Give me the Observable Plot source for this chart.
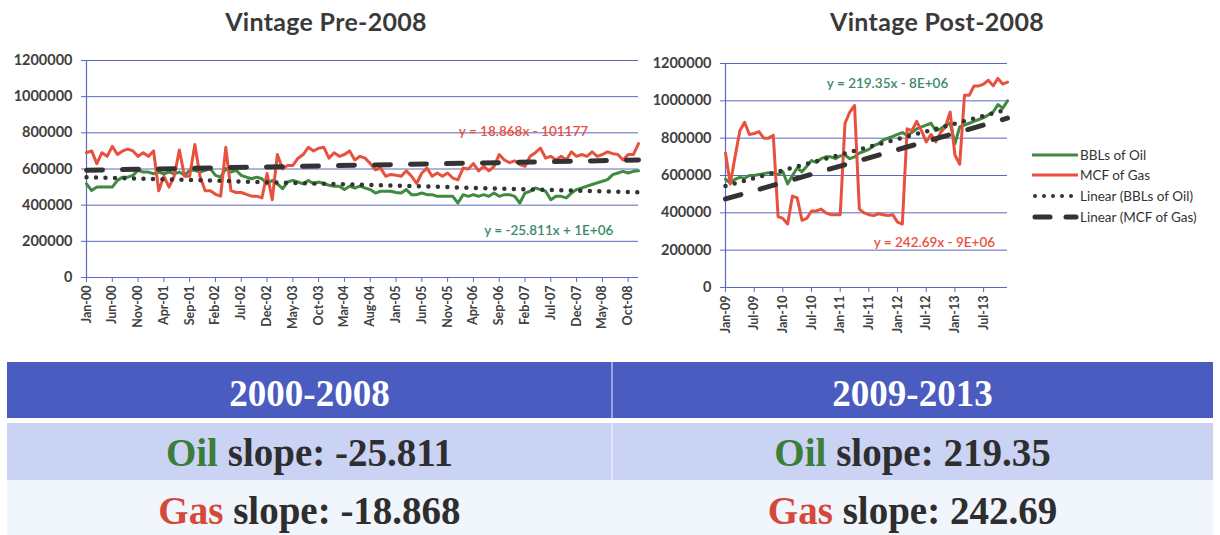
<!DOCTYPE html>
<html>
<head>
<meta charset="utf-8">
<script src="https://cdn.jsdelivr.net/npm/d3@7"></script>
<script src="https://cdn.jsdelivr.net/npm/@observablehq/plot@0.6"></script>
<style>
  body { margin: 0; background: #ffffff; }
  #root { position: relative; width: 1220px; height: 535px; overflow: hidden; background: #ffffff; }
  .chart { position: absolute; top: 0; }
  .chart svg { background: transparent !important; max-width: none !important; }
  #overlay { position: absolute; left: 0; top: 0; pointer-events: none; }
</style>
</head>
<body>
<div id="root">
  <div id="left" class="chart" style="left:0px"></div>
  <div id="right" class="chart" style="left:640px"></div>
</div>
<script>
// ---------------- DATA ----------------
const leftTitle = "Vintage Pre-2008";
const rightTitle = "Vintage Post-2008";

const leftMonthLabels = ["Jan-00","Jun-00","Nov-00","Apr-01","Sep-01","Feb-02","Jul-02","Dec-02","May-03","Oct-03","Mar-04","Aug-04","Jan-05","Jun-05","Nov-05","Apr-06","Sep-06","Feb-07","Jul-07","Dec-07","May-08","Oct-08"];
const leftLabelStep = 5; // one label every 5 months
const rightMonthLabels = ["Jan-09","Jul-09","Jan-10","Jul-10","Jan-11","Jul-11","Jan-12","Jul-12","Jan-13","Jul-13"];
const rightLabelStep = 6; // one label every 6 months

const yTickValues = [0, 200000, 400000, 600000, 800000, 1000000, 1200000];

// Jan-2000 .. Dec-2008 (108 months)
const leftOil = [
  518000,481000,500000,500000,500000,500000,537000,555000,555000,565000,593000,583000,
  583000,574000,583000,574000,583000,574000,583000,565000,593000,593000,583000,593000,
  602000,565000,555000,602000,583000,593000,565000,555000,546000,555000,546000,518000,
  537000,518000,491000,528000,537000,528000,518000,537000,518000,528000,520000,510000,
  505000,505000,486000,505000,495000,505000,495000,486000,467000,477000,477000,477000,
  470000,467000,486000,458000,458000,467000,458000,458000,449000,449000,449000,449000,
  412000,458000,449000,458000,449000,458000,449000,467000,449000,458000,458000,449000,
  412000,467000,477000,495000,486000,477000,430000,449000,449000,440000,467000,486000,
  495000,505000,514000,523000,532000,541000,569000,578000,587000,578000,587000,590000
];
const leftGas = [
  690000,700000,630000,690000,670000,725000,680000,700000,710000,700000,670000,690000,
  670000,700000,480000,560000,500000,560000,705000,560000,560000,735000,560000,480000,
  480000,460000,450000,720000,480000,470000,470000,460000,450000,450000,440000,575000,
  430000,680000,600000,620000,620000,660000,680000,720000,700000,715000,720000,660000,
  690000,670000,680000,700000,650000,670000,660000,630000,595000,605000,560000,570000,
  565000,560000,590000,560000,520000,578000,605000,560000,578000,560000,578000,550000,
  540000,605000,600000,630000,590000,615000,590000,615000,680000,650000,635000,645000,
  625000,615000,670000,690000,715000,660000,670000,650000,670000,650000,695000,670000,
  680000,670000,695000,670000,680000,695000,685000,680000,650000,680000,680000,740000
];

// Jan-2009 .. Dec-2013 (60 months)
const rightOil = [
  580000,560000,580000,590000,585000,600000,600000,605000,610000,615000,615000,605000,
  620000,555000,600000,640000,620000,650000,680000,670000,690000,700000,700000,690000,
  705000,710000,690000,700000,720000,730000,740000,760000,770000,790000,800000,810000,
  820000,830000,815000,830000,850000,860000,870000,880000,840000,850000,870000,880000,
  770000,860000,870000,880000,890000,900000,910000,925000,940000,980000,960000,1000000
];
const rightGas = [
  720000,555000,700000,840000,885000,820000,825000,835000,800000,800000,815000,380000,
  370000,340000,490000,480000,360000,370000,410000,410000,420000,400000,390000,390000,
  390000,880000,940000,975000,420000,400000,390000,385000,395000,390000,385000,390000,
  350000,340000,850000,840000,890000,840000,780000,820000,780000,830000,860000,940000,
  710000,660000,1030000,1030000,1080000,1080000,1090000,1110000,1080000,1120000,1090000,1100000
];

const leftOilEq = "y = -25.811x + 1E+06";
const leftGasEq = "y = 18.868x - 101177";
const rightOilEq = "y = 219.35x - 8E+06";
const rightGasEq = "y = 242.69x - 9E+06";

const legendLabels = ["BBLs of Oil", "MCF of Gas", "Linear (BBLs of Oil)", "Linear (MCF of Gas)"];

const tablePeriods = ["2000-2008", "2009-2013"];
const oilSlopes = ["-25.811", "219.35"];
const gasSlopes = ["-18.868", "242.69"];

// ---------------- STYLE ----------------
const oilColor = "#3f8a3f";
const gasColor = "#e8513d";
const oilEqColor = "#3a8a68";
const gasEqColor = "#e8513d";
const trendColor = "#333333";
const gridColor = "#5a69bd";
const labelColor = "#404040";

function makeChart(cfg) {
  const oilData = cfg.oil.map((v, i) => ({i, v}));
  const gasData = cfg.gas.map((v, i) => ({i, v}));
  const n = cfg.oil.length;
  const ticks = cfg.labels.map((_, k) => k * cfg.step);
  return Plot.plot({
    width: cfg.width, height: cfg.height,
    marginLeft: cfg.ml, marginRight: cfg.mr, marginTop: cfg.mt, marginBottom: cfg.mb,
    style: {fontFamily: "Lato, sans-serif", fontWeight: "bold", fontSize: "12.5px", color: labelColor, background: "transparent", overflow: "visible"},
    x: {type: "linear", domain: [0, n - 1]},
    y: {domain: [0, 1200000]},
    marks: [
      Plot.gridY(yTickValues, {stroke: gridColor, strokeOpacity: 1, strokeWidth: 1}),
      Plot.axisY(yTickValues, {tickSize: 5, tickPadding: 9, stroke: gridColor, fill: labelColor, fontSize: 14.5, tickFormat: d3.format("d"), label: null}),
      Plot.ruleX([0], {stroke: gridColor, strokeWidth: 1.2}),
      Plot.axisX(ticks, {tickRotate: -90, tickSize: 5, tickPadding: 3, stroke: gridColor, fill: labelColor, fontSize: 12.5, tickFormat: d => cfg.labels[Math.round(d / cfg.step)], label: null}),
      Plot.ruleY([0], {stroke: gridColor, strokeWidth: 1.2}),
      Plot.line(oilData, {x: "i", y: "v", stroke: oilColor, strokeWidth: 3, strokeLinejoin: "round"}),
      Plot.line(gasData, {x: "i", y: "v", stroke: gasColor, strokeWidth: 3, strokeLinejoin: "round"}),
      Plot.linearRegressionY(oilData, {x: "i", y: "v", ci: 0, stroke: trendColor, strokeWidth: 4.5, strokeDasharray: "0 9.5", strokeLinecap: "round"}),
      Plot.linearRegressionY(gasData, {x: "i", y: "v", ci: 0, stroke: trendColor, strokeWidth: 5, strokeDasharray: "16 20", strokeLinecap: "round"}),
      Plot.text([cfg.gasEq], {x: cfg.gasEqX, y: cfg.gasEqY, text: d => d, fill: gasEqColor, fontSize: 13.5, fontWeight: 600}),
      Plot.text([cfg.oilEq], {x: cfg.oilEqX, y: cfg.oilEqY, text: d => d, fill: oilEqColor, fontSize: 13.5, fontWeight: 600})
    ]
  });
}

document.getElementById("left").append(makeChart({
  oil: leftOil, gas: leftGas, labels: leftMonthLabels, step: leftLabelStep,
  width: 650, height: 345, ml: 86, mr: 12, mt: 60, mb: 68,
  gasEq: leftGasEq, gasEqX: 84.7, gasEqY: 807000,
  oilEq: leftOilEq, oilEqX: 89.6, oilEqY: 260000
}));

document.getElementById("right").append(makeChart({
  oil: rightOil, gas: rightGas, labels: rightMonthLabels, step: rightLabelStep,
  width: 380, height: 345, ml: 85, mr: 13, mt: 63, mb: 58,
  gasEq: rightGasEq, gasEqX: 43.7, gasEqY: 241000,
  oilEq: rightOilEq, oilEqX: 33.9, oilEqY: 1093000
}));

// ---------------- OVERLAY: titles, legend, table ----------------
const svg = d3.select("#root").append("svg")
  .attr("id", "overlay").attr("width", 1220).attr("height", 535);

[[leftTitle, 326], [rightTitle, 937]].forEach(([t, x]) => {
  svg.append("text").attr("x", x).attr("y", 31).attr("text-anchor", "middle")
    .attr("font-family", "Lato, sans-serif").attr("font-weight", 700).attr("font-size", 25)
    .attr("letter-spacing", "0.3px").attr("fill", "#3a3a3a").text(t);
});

// legend
const legendY = [155, 175, 196, 217];
const lg = svg.append("g");
const swatch = [
  {stroke: oilColor, width: 3, dash: null, cap: "butt"},
  {stroke: gasColor, width: 3, dash: null, cap: "butt"},
  {stroke: trendColor, width: 4, dash: "0 9", cap: "round"},
  {stroke: trendColor, width: 5, dash: "15 16", cap: "round"}
];
legendLabels.forEach((lab, k) => {
  const s = swatch[k];
  const x0 = s.cap === "round" ? 1035 : 1032;
  const x1 = s.cap === "round" ? 1076 : 1078;
  const ln = lg.append("line").attr("x1", x0).attr("x2", x1).attr("y1", legendY[k]).attr("y2", legendY[k])
    .attr("stroke", s.stroke).attr("stroke-width", s.width).attr("stroke-linecap", s.cap);
  if (s.dash) ln.attr("stroke-dasharray", s.dash);
  lg.append("text").attr("x", 1080).attr("y", legendY[k]).attr("dy", "0.35em")
    .attr("font-family", "Lato, sans-serif").attr("font-size", 13.5).attr("fill", "#333")
    .text(lab);
});

// table
const tx0 = 7, tx1 = 1213, tmid = 612;
svg.append("rect").attr("x", tx0).attr("y", 362).attr("width", tx1 - tx0).attr("height", 56).attr("fill", "#4a5cbf");
svg.append("rect").attr("x", tx0).attr("y", 423).attr("width", tx1 - tx0).attr("height", 57).attr("fill", "#cbd3f5");
svg.append("rect").attr("x", tx0).attr("y", 480).attr("width", tx1 - tx0).attr("height", 55).attr("fill", "#f0f6fc");
svg.append("line").attr("x1", tmid).attr("x2", tmid).attr("y1", 362).attr("y2", 480)
  .attr("stroke", "#ffffff").attr("stroke-opacity", 0.6).attr("stroke-width", 1.5);

const centers = [(tx0 + tmid) / 2, (tmid + tx1) / 2];
const serif = "'Liberation Serif', 'Times New Roman', serif";
tablePeriods.forEach((p, k) => {
  svg.append("text").attr("x", centers[k]).attr("y", 406).attr("text-anchor", "middle")
    .attr("font-family", serif).attr("font-weight", 700).attr("font-size", 37)
    .attr("fill", "#ffffff").text(p);
  const t1 = svg.append("text").attr("x", centers[k]).attr("y", 466).attr("text-anchor", "middle")
    .attr("font-family", serif).attr("font-weight", 700).attr("font-size", 39);
  t1.append("tspan").attr("fill", "#3c7d3a").text("Oil");
  t1.append("tspan").attr("fill", "#2e2e2e").text(" slope: " + oilSlopes[k]);
  const t2 = svg.append("text").attr("x", centers[k]).attr("y", 524).attr("text-anchor", "middle")
    .attr("font-family", serif).attr("font-weight", 700).attr("font-size", 39);
  t2.append("tspan").attr("fill", "#d5483a").text("Gas");
  t2.append("tspan").attr("fill", "#2e2e2e").text(" slope: " + gasSlopes[k]);
});
</script>
</body>
</html>
